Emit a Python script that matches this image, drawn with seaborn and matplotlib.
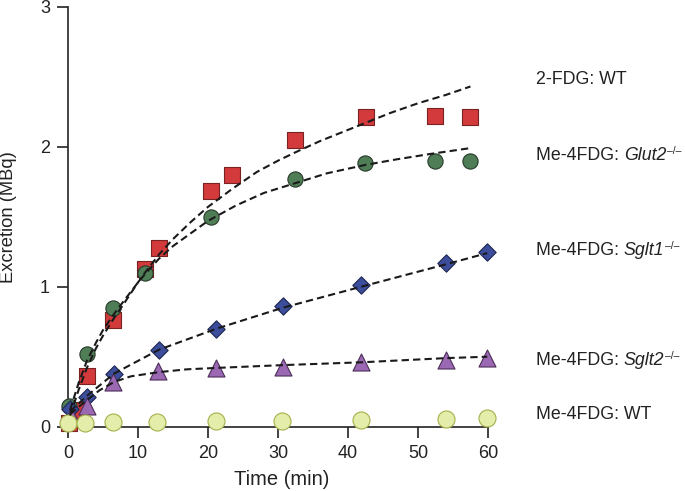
import numpy as np
import matplotlib
matplotlib.use("Agg")
import matplotlib.pyplot as plt
import seaborn as sns

# measured points (time in min, excretion in MBq)
fdg_wt_t = [0.2, 1.2, 2.7, 6.4, 11.0, 13.0, 20.5, 23.4, 32.5, 42.6, 52.5, 57.4]
fdg_wt_y = [0.03, 0.12, 0.36, 0.76, 1.13, 1.28, 1.68, 1.80, 2.05, 2.21, 2.22, 2.21]

glut2_t = [0.1, 2.7, 6.4, 11.0, 20.4, 32.4, 42.5, 52.5, 57.4]
glut2_y = [0.15, 0.52, 0.85, 1.10, 1.50, 1.77, 1.88, 1.90, 1.90]

sglt1_t = [0.3, 2.7, 6.6, 13.0, 21.2, 30.7, 41.9, 54.0, 59.9]
sglt1_y = [0.13, 0.21, 0.38, 0.55, 0.70, 0.86, 1.01, 1.17, 1.25]

sglt2_t = [0.5, 2.7, 6.4, 12.9, 21.2, 30.7, 41.9, 54.0, 59.9]
sglt2_y = [0.08, 0.15, 0.32, 0.40, 0.42, 0.43, 0.46, 0.48, 0.49]

wt_t = [0.0, 2.4, 6.4, 12.7, 21.1, 30.6, 41.8, 54.0, 59.9]
wt_y = [0.03, 0.03, 0.035, 0.035, 0.04, 0.04, 0.045, 0.055, 0.06]

# fitted curves
fit_fdg_t = [0.3, 1.5, 2.7, 4, 5, 6.5, 8, 10, 11, 13, 15, 17.5, 20, 23.5, 27, 30, 32.5, 36, 40, 42.5, 46, 50, 54, 57.5]
fit_fdg_y = [0.08, 0.26, 0.42, 0.56, 0.65, 0.77, 0.88, 1.03, 1.10, 1.23, 1.34, 1.46, 1.57, 1.70, 1.82, 1.90, 1.96, 2.04, 2.12, 2.17, 2.24, 2.31, 2.37, 2.43]

fit_glut2_t = [0.3, 1.5, 2.7, 4, 5, 6.5, 8, 10, 11, 13, 15, 17.5, 20, 24, 28, 32.5, 37, 42.5, 47, 52, 57.5]
fit_glut2_y = [0.12, 0.31, 0.47, 0.60, 0.69, 0.80, 0.90, 1.03, 1.09, 1.20, 1.29, 1.38, 1.47, 1.58, 1.67, 1.74, 1.81, 1.87, 1.91, 1.95, 1.99]

fit_sglt1_t = [0.3, 2.7, 6.6, 13.0, 21.2, 30.7, 41.9, 54.0, 59.9]
fit_sglt1_y = [0.11, 0.22, 0.38, 0.55, 0.70, 0.85, 1.00, 1.16, 1.24]

fit_sglt2_t = [0.3, 2.7, 4.5, 6.6, 9.0, 13.0, 17.0, 21.2, 30.7, 41.9, 54.0, 59.9]
fit_sglt2_y = [0.09, 0.19, 0.26, 0.32, 0.36, 0.39, 0.41, 0.42, 0.44, 0.46, 0.49, 0.50]

# right-hand labels: prefix, italic gene, knockout superscript
label_prefix = ["2-FDG: WT", "Me-4FDG: ", "Me-4FDG: ", "Me-4FDG: ", "Me-4FDG: WT"]
label_gene = ["", "Glut2", "Sglt1", "Sglt2", ""]
label_ypix = [79, 155, 250, 360, 414]

sns.set_theme(style="ticks")
plt.rcParams["font.family"] = ["Liberation Sans", "DejaVu Sans"]

fig = plt.figure(figsize=(6.85, 4.91), dpi=100)
ax = fig.add_axes([0.0788, 0.1024, 0.654, 0.884])

series = [
    (fdg_wt_t, fdg_wt_y, "s", 135, "#d23a3c", "#7a2222"),
    (glut2_t, glut2_y, "o", 120, "#4f7d56", "#27392a"),
    (sglt1_t, sglt1_y, "D", 78, "#3c4d9c", "#1e2650"),
    (sglt2_t, sglt2_y, "^", 150, "#9b68b3", "#4d2f5a"),
    (wt_t, wt_y, "o", 150, "#e4eeaa", "#a5b04a"),
]
for t, y, m, s, fc, ec in series:
    sns.scatterplot(x=t, y=y, marker=m, s=s, color=fc, edgecolor=ec,
                    linewidth=0.8, ax=ax, zorder=3, clip_on=False)

for t, y in [(fit_fdg_t, fit_fdg_y), (fit_glut2_t, fit_glut2_y),
             (fit_sglt1_t, fit_sglt1_y), (fit_sglt2_t, fit_sglt2_y)]:
    sns.lineplot(x=t, y=y, color="#1a1a1a", linewidth=1.5, dashes=False,
                 ax=ax, zorder=4, sort=False)
for line in ax.lines:
    line.set_dashes((3.5, 2.0))

ax.set_xlim(-2, 62)
ax.set_ylim(-0.1, 3)
ax.spines["left"].set_position(("data", 0))
ax.spines["bottom"].set_position(("data", 0))
ax.spines["left"].set_bounds(0, 3)
ax.spines["bottom"].set_bounds(0, 60)
ax.spines["top"].set_visible(False)
ax.spines["right"].set_visible(False)
for sp in ["left", "bottom"]:
    ax.spines[sp].set_linewidth(1.2)
    ax.spines[sp].set_color("#222222")
    ax.spines[sp].set_zorder(2)

ax.set_xticks([0, 10, 20, 30, 40, 50, 60])
ax.set_yticks([0, 1, 2, 3])
ax.tick_params(axis="both", direction="out", length=8, width=1.2,
               labelsize=13, pad=5, color="#222222", labelcolor="#222222")

ax.set_xlabel("Time (min)", fontsize=14.5, color="#222222")
ax.set_ylabel("Excretion (MBq)", fontsize=13.2, color="#222222")
ax.xaxis.set_label_coords(0.508, -0.068)
ax.yaxis.set_label_coords(-0.083, 0.516)

for prefix, gene, ypix in zip(label_prefix, label_gene, label_ypix):
    t1 = fig.text(536 / 685, 1 - ypix / 491, prefix, fontsize=12.8,
                  va="baseline", ha="left", color="#222222")
    t1.set_y(1 - (ypix + 5) / 491)
    if gene:
        # italic gene name right after the prefix, same baseline
        t2 = ax.annotate(gene, xy=(1, 0), xycoords=t1, va="bottom",
                         ha="left", fontsize=12.8, style="italic",
                         color="#222222", annotation_clip=False)
        # knockout superscript
        ax.annotate("\u2013/\u2013", xy=(1, 0.5), xycoords=t2,
                    xytext=(0.8, 0.8), textcoords="offset points",
                    va="baseline", ha="left", fontsize=7.5, color="#222222",
                    annotation_clip=False)

plt.savefig("out.png", dpi=100)
